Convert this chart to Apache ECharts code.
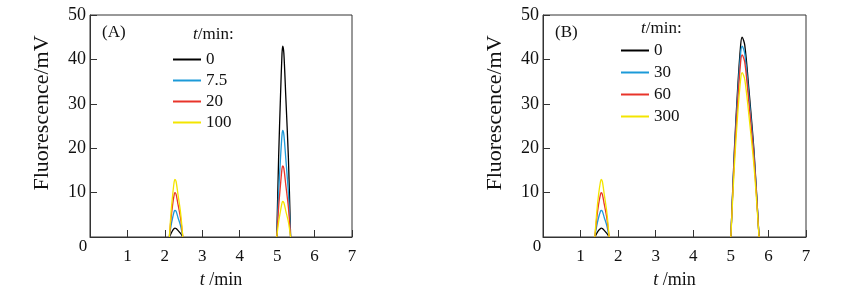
<!DOCTYPE html>
<html><head><meta charset="utf-8">
<script src="https://cdn.jsdelivr.net/npm/echarts@6/dist/echarts.min.js"></script>
<style>html,body{margin:0;padding:0;background:#fff}#c{width:860px;height:298px}</style>
</head><body><div id="c"></div>
<script>
// tick labels
const xTicks = [0, 1, 2, 3, 4, 5, 6, 7];
const yTicks = [0, 10, 20, 30, 40, 50];
// legend names
const namesA = ['0', '7.5', '20', '100'];
const namesB = ['0', '30', '60', '300'];
// peak retention times (min)
const xA1 = [2.12, 2.165, 2.21, 2.25, 2.27, 2.30, 2.35, 2.42, 2.48];
const xA2 = [4.99, 5.04, 5.09, 5.13, 5.15, 5.18, 5.23, 5.30, 5.36];
const xB1 = [1.38, 1.43, 1.48, 1.53, 1.55, 1.58, 1.63, 1.70, 1.76];
const xB2 = [5.00, 5.09, 5.18, 5.26, 5.30, 5.37, 5.48, 5.62, 5.75];
// panel A fluorescence (mV)
const a0_1 = [0, 0.8, 1.5, 1.9, 2, 1.9, 1.5, 0.8, 0];
const a0_2 = [0, 18, 31.8, 41.3, 43, 41.3, 31.8, 18, 0];
const a75_1 = [0, 2.5, 4.4, 5.8, 6, 5.8, 4.4, 2.5, 0];
const a75_2 = [0, 10, 17.8, 23, 24, 23, 17.8, 10, 0];
const a20_1 = [0, 4.2, 7.4, 9.6, 10, 9.6, 7.4, 4.2, 0];
const a20_2 = [0, 6.7, 11.8, 15.4, 16, 15.4, 11.8, 6.7, 0];
const a100_1 = [0, 5.5, 9.6, 12.5, 13, 12.5, 9.6, 5.5, 0];
const a100_2 = [0, 3.4, 5.9, 7.7, 8, 7.7, 5.9, 3.4, 0];
// panel B fluorescence (mV)
const b0_1 = [0, 0.8, 1.5, 1.9, 2, 1.9, 1.5, 0.8, 0];
const b0_2 = [0, 18.9, 33.3, 43.2, 45, 43.2, 33.3, 18.9, 0];
const b30_1 = [0, 2.5, 4.4, 5.8, 6, 5.8, 4.4, 2.5, 0];
const b30_2 = [0, 18, 31.8, 41.3, 43, 41.3, 31.8, 18, 0];
const b60_1 = [0, 4.2, 7.4, 9.6, 10, 9.6, 7.4, 4.2, 0];
const b60_2 = [0, 17.2, 30.3, 39.4, 41, 39.4, 30.3, 17.2, 0];
const b300_1 = [0, 5.5, 9.6, 12.5, 13, 12.5, 9.6, 5.5, 0];
const b300_2 = [0, 15.5, 27.4, 35.5, 37, 35.5, 27.4, 15.5, 0];

const colors = ['#000000', '#1c9ad8', '#e8342a', '#f3e500'];
const FONT = '"Liberation Serif", "Times New Roman", serif';

function curve(x1, y1, x2, y2, gapX) {
  const d = x1.map((x, i) => [x, y1[i]]);
  d.push([gapX, '-']);
  return d.concat(x2.map((x, i) => [x, y2[i]]));
}
const dataA = [curve(xA1, a0_1, xA2, a0_2, 3.7), curve(xA1, a75_1, xA2, a75_2, 3.7),
               curve(xA1, a20_1, xA2, a20_2, 3.7), curve(xA1, a100_1, xA2, a100_2, 3.7)];
const dataB = [curve(xB1, b0_1, xB2, b0_2, 3.4), curve(xB1, b30_1, xB2, b30_2, 3.4),
               curve(xB1, b60_1, xB2, b60_2, 3.4), curve(xB1, b300_1, xB2, b300_2, 3.4)];

function xAxis(gi) {
  return {
    type: 'value', gridIndex: gi, min: xTicks[0], max: xTicks[xTicks.length - 1], interval: 1,
    name: '{i|t} /min', nameLocation: 'middle', nameGap: 34,
    nameTextStyle: { fontFamily: FONT, fontSize: 18, color: '#111', rich: { i: { fontStyle: 'italic', fontFamily: FONT, fontSize: 18, color: '#111' } } },
    axisLine: { show: true, lineStyle: { color: '#333', width: 1 } },
    axisTick: { show: true, inside: true, length: 7, lineStyle: { color: '#333' } },
    axisLabel: { fontFamily: FONT, fontSize: 17, color: '#111', margin: 11,
      formatter: v => (v === 0 ? '' : String(v)) },
    splitLine: { show: false }
  };
}
function yAxis(gi) {
  return {
    type: 'value', gridIndex: gi, min: yTicks[0], max: yTicks[yTicks.length - 1], interval: 10,
    name: 'Fluorescence/mV', nameLocation: 'middle', nameGap: 37,
    nameTextStyle: { fontFamily: FONT, fontSize: 22, color: '#111', padding: [0, 0, 0, 26] },
    axisLine: { show: true, lineStyle: { color: '#333', width: 1 } },
    axisTick: { show: true, inside: true, length: 7, lineStyle: { color: '#333' } },
    axisLabel: { fontFamily: FONT, fontSize: 18, color: '#111', margin: 4,
      formatter: v => (v === 0 ? '' : String(v)) },
    splitLine: { show: false }
  };
}
function mkSeries(names, data, gi) {
  return names.map((n, i) => ({
    name: n, type: 'line', xAxisIndex: gi, yAxisIndex: gi, data: data[i],
    showSymbol: false, symbol: 'none', smooth: 0.3, connectNulls: false,
    lineStyle: { color: colors[i], width: 1.3 }, itemStyle: { color: colors[i] },
    z: 2 + i
  }));
}
function legend(names, left, top, gap) {
  return {
    data: names.map((n, i) => ({ name: n, itemStyle: { color: colors[i] } })),
    orient: 'vertical', left: left, top: top, padding: 0, itemGap: gap,
    itemWidth: 28, itemHeight: 2, icon: 'rect', selectedMode: false,
    textStyle: { fontFamily: FONT, fontSize: 17, color: '#111', lineHeight: 16 }
  };
}
function txt(x, y, text, align) {
  return { type: 'text', x: x, y: y, silent: true,
    style: { text: text, font: '17px ' + FONT, fill: '#111', align: align || 'left', verticalAlign: 'middle',
      rich: { i: { fontStyle: 'italic', fontFamily: FONT, fontSize: 17, fill: '#111' } } } };
}

const chart = echarts.init(document.getElementById('c'));
chart.setOption({
  animation: false,
  grid: [
    { left: 90, top: 15, width: 262, height: 222, show: true, borderColor: '#333', borderWidth: 1 },
    { left: 543, top: 15, width: 263, height: 222, show: true, borderColor: '#333', borderWidth: 1 }
  ],
  xAxis: [xAxis(0), xAxis(1)],
  yAxis: [yAxis(0), yAxis(1)],
  legend: [legend(namesA, 173, 51, 4), legend(namesB, 621, 42, 5)],
  series: mkSeries(namesA, dataA, 0).concat(mkSeries(namesB, dataB, 1)),
  graphic: [
    txt(102, 33, '(A)'), txt(555, 33, '(B)'),
    txt(193, 35, '{i|t}/min:'), txt(641, 29, '{i|t}/min:'),
    txt(83, 247, '0', 'center'), txt(537, 247, '0', 'center')
  ]
});
</script></body></html>
